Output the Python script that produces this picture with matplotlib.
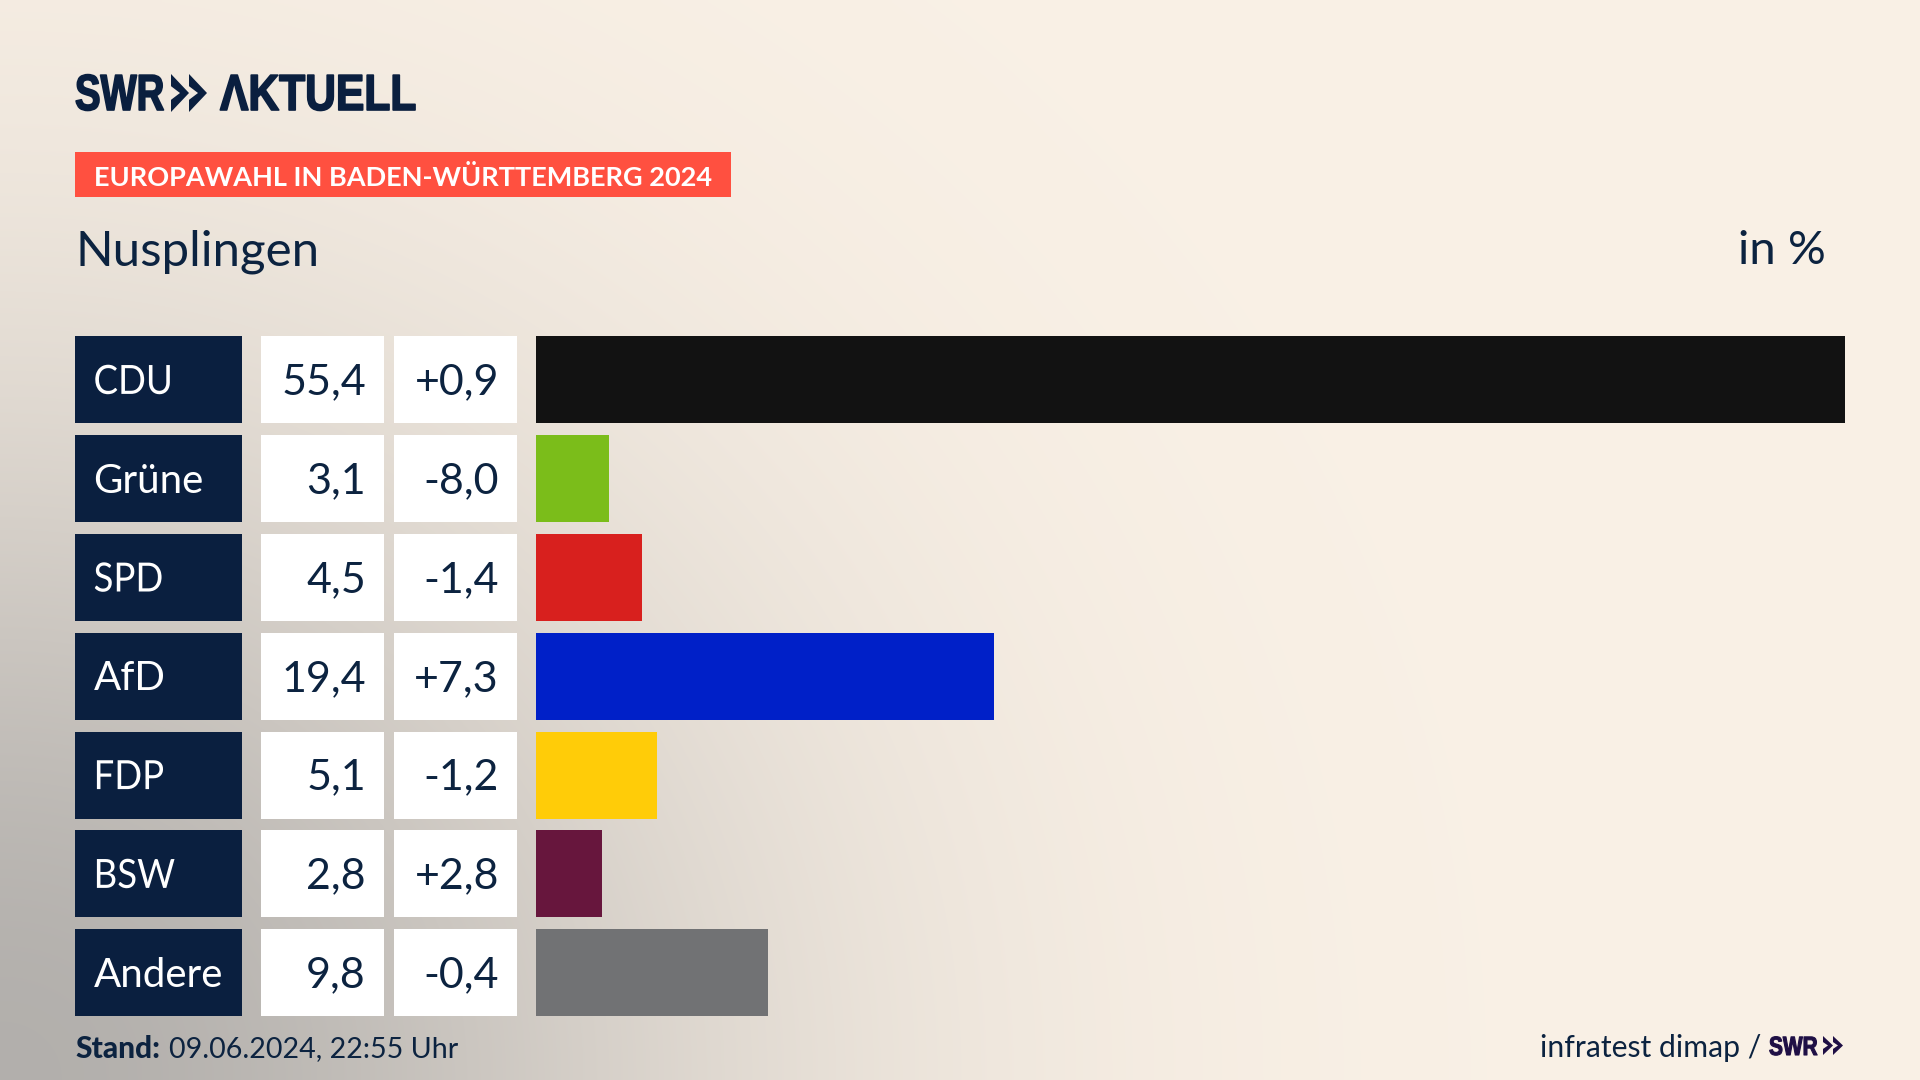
import numpy as np
import matplotlib
matplotlib.use("Agg")
import matplotlib.pyplot as plt
from matplotlib.patches import Polygon, Rectangle
from matplotlib.patheffects import AbstractPathEffect
from matplotlib.transforms import Affine2D

W, H = 1920, 1080

parties = ["CDU", "Grüne", "SPD", "AfD", "FDP", "BSW", "Andere"]
shares = [55.4, 3.1, 4.5, 19.4, 5.1, 2.8, 9.8]
changes = [0.9, -8.0, -1.4, 7.3, -1.2, 2.8, -0.4]
bar_colors = ["#121212", "#7bbd1a", "#d8201e", "#0020c8", "#ffcc08", "#67163d", "#717274"]

NAVY = "#0a1f3f"
INK = "#0c2340"
BODY = "Lato"
LOGO = "Liberation Sans"

# row geometry in pixels
ROW_TOP = 336.4
ROW_H = 87.0
ROW_STEP = 98.8


class Squeeze(AbstractPathEffect):
    # narrows a text horizontally, the house font is more condensed than ours
    def __init__(self, sx, x_px, stroke=0):
        super().__init__()
        self.sx = sx
        self.x_px = x_px
        self.stroke = stroke

    def draw_path(self, renderer, gc, tpath, affine, rgbFace=None):
        squeezed = affine + Affine2D().translate(-self.x_px, 0).scale(self.sx, 1).translate(self.x_px, 0)
        gc0 = renderer.new_gc()
        gc0.copy_properties(gc)
        if self.stroke:
            gc0.set_foreground(rgbFace)
            gc0.set_linewidth(self.stroke)
        renderer.draw_path(gc0, tpath, squeezed, rgbFace)
        gc0.restore()


def fmt(v, sign=False):
    s = f"{v:+.1f}" if sign else f"{v:.1f}"
    return s.replace(".", ",")


def chevrons(ax, x, y, w, h, color):
    # the two arrows of the SWR logo
    for off in (0, w * 1.0):
        ax.add_patch(Polygon([
            (x + off, y), (x + off + w, y + h / 2), (x + off, y + h),
            (x + off, y + h * 0.68), (x + off + w * 0.5, y + h / 2), (x + off, y + h * 0.32),
        ], closed=True, fc=color, ec="none"))


fig = plt.figure(figsize=(W / 100, H / 100), dpi=100)

# background: cream with a grey wash out of the lower left corner
ax = fig.add_axes([0, 0, 1, 1])
ax.set_xlim(0, W)
ax.set_ylim(H, 0)
ax.axis("off")

yy, xx = np.mgrid[0:H:270j, 0:W:480j]
d = np.hypot(xx / 720, (H - yy) / 680)
wash = 0.55 * np.exp(-d ** 2)
cream = np.array([250, 241, 230]) / 255
grey = np.array([120, 122, 125]) / 255
bg = cream[None, None, :] * (1 - wash[..., None]) + grey[None, None, :] * wash[..., None]
ax.imshow(bg, extent=(0, W, H, 0), aspect="auto", zorder=0, interpolation="bilinear")
ax.set_xlim(0, W)
ax.set_ylim(H, 0)

# header
ax.text(75, 110, "SWR", family=LOGO, weight="bold", fontsize=36.5, color=NAVY, va="baseline", ha="left",
        path_effects=[Squeeze(0.755, 75, stroke=1.2)])
chevrons(ax, 171, 74, 18, 38, NAVY)
ax.text(220, 110, "ΛKTUELL", family=LOGO, weight="bold", fontsize=36.5, color=NAVY, va="baseline", ha="left",
        path_effects=[Squeeze(0.84, 220, stroke=1.2)])

ax.add_patch(Rectangle((75, 152), 656, 45, fc="#ff5040", ec="none"))
ax.text(94, 177.5, "EUROPAWAHL IN BADEN-WÜRTTEMBERG 2024", family=BODY, weight="bold", fontsize=19.5,
        color="white", va="center", ha="left")
ax.text(75, 251.5, "Nusplingen", family=BODY, fontsize=35.5, color=INK, va="center", ha="left")
ax.text(1826, 251.5, "in %", family=BODY, fontsize=34, color=INK, va="center", ha="right")

# left hand table
for i, (party, share, change) in enumerate(zip(parties, shares, changes)):
    top = ROW_TOP + i * ROW_STEP
    mid = top + ROW_H / 2 + 2.5
    ax.add_patch(Rectangle((75, top), 167, ROW_H, fc=NAVY, ec="none"))
    ax.add_patch(Rectangle((261, top), 123, ROW_H, fc="white", ec="none"))
    ax.add_patch(Rectangle((394, top), 123, ROW_H, fc="white", ec="none"))
    effects = [Squeeze(0.91, 94)] if party.isupper() else None
    ax.text(93.5, mid, party, family=BODY, fontsize=29, color="white", va="center", ha="left", path_effects=effects)
    ax.text(366, mid, fmt(share), family=BODY, fontsize=31, color=INK, va="center", ha="right")
    ax.text(499, mid, fmt(change, sign=True), family=BODY, fontsize=31, color=INK, va="center", ha="right")

# footer
ax.text(75, 1049.5, "Stand:", family=BODY, weight="black", fontsize=21.5, color=INK, va="center", ha="left")
ax.text(169, 1049.5, "09.06.2024, 22:55 Uhr", family=BODY, fontsize=20.6, color=INK, va="center", ha="left")
ax.text(1761, 1048.5, "infratest dimap /", family=BODY, fontsize=21.7, color=INK, va="center", ha="right")
ax.text(1769, 1055, "SWR", family=LOGO, weight="bold", fontsize=19, color="#1f0f45", va="baseline", ha="left",
        path_effects=[Squeeze(0.79, 1769, stroke=0.8)])
chevrons(ax, 1823, 1036, 10, 19, "#1f0f45")

# bars on their own axes, one unit per row
first_mid = ROW_TOP + ROW_H / 2
y_top, y_bot = first_mid - ROW_STEP / 2, first_mid + 6.5 * ROW_STEP
x0, x1 = 536, 1845
bar_ax = fig.add_axes([x0 / W, 1 - y_bot / H, (x1 - x0) / W, (y_bot - y_top) / H])
bar_ax.patch.set_alpha(0)
bar_ax.barh(range(len(parties)), shares, height=ROW_H / ROW_STEP, color=bar_colors)
bar_ax.set_xlim(0, max(shares))
bar_ax.set_ylim(len(parties) - 0.5, -0.5)
bar_ax.axis("off")

fig.savefig("out.png", dpi=100)
